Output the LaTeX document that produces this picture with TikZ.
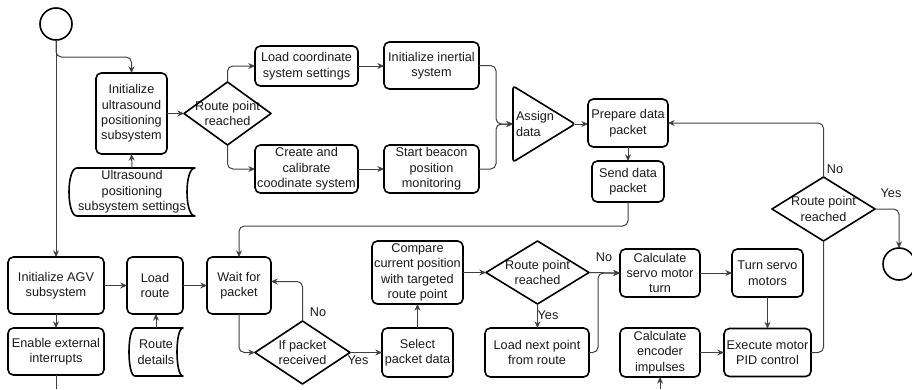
\documentclass[tikz,border=0pt]{standalone}
\usepackage{fontspec}
\setmainfont{Liberation Sans}
\usetikzlibrary{arrows.meta,calc}
\newcommand{\storedshape}[2]{%
 \draw[shapeline] ($(#1.north west)+(#2,0)$) -- (#1.north east)
 .. controls ($(#1.north east)+(-1.333*#2,0)$) and ($(#1.south east)+(-1.333*#2,0)$) .. (#1.south east)
 -- ($(#1.south west)+(#2,0)$)
 .. controls ($(#1.south west)+(-0.333*#2,0)$) and ($(#1.north west)+(-0.333*#2,0)$) .. ($(#1.north west)+(#2,0)$) -- cycle;}
\tikzset{
 every node/.style={font=\fontsize{9.5}{11.6}\selectfont, text=black!90},
 box/.style={draw=black, line width=1.2pt, rounded corners=4pt, align=center, inner sep=1pt, outer sep=0pt},
 sz/.style 2 args={minimum width=#1*0.75pt, minimum height=#2*0.75pt},
 plain/.style={align=center, inner sep=1pt, outer sep=0pt},
 conn/.style={draw=black!75, line width=0.75pt, rounded corners=4pt},
 arr/.style={conn, -{Stealth[length=5pt,width=4.5pt]}},
 lab/.style={inner sep=1pt},
 term/.style={circle, draw=black, line width=1.2pt, minimum size=24pt, inner sep=0pt, outer sep=0pt},
 shapeline/.style={draw=black, line width=1.2pt, line join=round},
}
\begin{document}
\begin{tikzpicture}[x=0.75pt,y=-0.75pt]
\useasboundingbox (0,0) rectangle (912,389);
% nodes
\node[term] (start) at (56,24) {};
\node[term] (end) at (899,264) {};
\node[box, sz={71}{81}] (us) at (131.5,113.5) {Initialize\\ultrasound\\positioning\\subsystem};
\node[plain, sz={126}{48}] (uss) at (132,192) {Ultrasound\\positioning\\subsystem settings};
\node[plain, sz={87}{63}] (d1) at (227.5,113.5) {Route point\\reached};
\node[box, sz={103}{40}] (lcs) at (306.5,66) {Load coordinate\\system settings};
\node[box, sz={103}{48}] (ccs) at (306.5,169) {Create and\\calibrate\\coodinate system};
\node[box, sz={95}{47}] (iis) at (431.5,65.5) {Initialize inertial\\system};
\node[box, sz={95}{48}] (sbp) at (431.5,169) {Start beacon\\position\\monitoring};
\node[plain, sz={62}{76}, text width=42pt, align=left] (assign) at (544,124) {Assign\\data};
\node[box, sz={80}{48}] (pdp) at (628,123) {Prepare data\\packet};
\node[box, sz={72}{41}] (sdp) at (628,181.5) {Send data\\packet};
\node[plain, sz={103}{64}] (d4) at (823.5,209) {Route point\\reached};
\node[box, sz={96}{57}] (agv) at (56,285.5) {Initialize AGV\\subsystem};
\node[box, sz={96}{47}] (eei) at (56,351.5) {Enable external\\interrupts};
\node[box, sz={56}{57}] (lr) at (155,285.5) {Load\\route};
\node[plain, sz={54}{48}] (rd) at (156,352) {Route\\details};
\node[box, sz={64}{57}] (wfp) at (239,285.5) {Wait for\\packet};
\node[plain, sz={95}{63}] (d2) at (302.5,352.5) {If packet\\received};
\node[box, sz={71}{49}] (spd) at (417.5,352.5) {Select\\packet data};
\node[box, sz={91}{63}] (cmp) at (417.5,272.5) {Compare\\current position\\with targeted\\route point};
\node[plain, sz={103}{63}] (d3) at (537.5,272.5) {Route point\\reached};
\node[box, sz={104}{49}] (lnp) at (537,352.5) {Load next point\\from route};
\node[box, sz={80}{48}] (csm) at (660,273) {Calculate\\servo motor\\turn};
\node[box, sz={71}{48}] (tsm) at (767.5,273) {Turn servo\\motors};
\node[box, sz={80}{49}] (cei) at (660,352.5) {Calculate\\encoder\\impulses};
\node[box, sz={87}{48}] (pid) at (767.5,352.5) {Execute motor\\PID control};
\coordinate (b1) at (56,389);
\coordinate (b2) at (660,389);
% shapes
\foreach \n in {d1,d2,d3,d4}
  \draw[shapeline] (\n.north) -- (\n.east) -- (\n.south) -- (\n.west) -- cycle;
\draw[shapeline, rounded corners=2pt] (assign.north west) -- (assign.east) -- (assign.south west) -- cycle;
\storedshape{uss}{8}
\storedshape{rd}{6}
% labels
\node[lab] (l1) at (318,312) {No};
\node[lab] (l2) at (358,360) {Yes};
\node[lab] (l3) at (548,315) {Yes};
\node[lab] (l4) at (604,257) {No};
\node[lab] (l5) at (835,169) {No};
\node[lab] (l6) at (891,193) {Yes};
% connectors
\draw[arr] (start.south) -- (agv.north);
\draw[arr] (start.south) -- ++(0,17) -| (us.north);
\draw[arr] (uss.north) -- (us.south);
\draw[arr] (us.east) -- (d1.west);
\draw[arr] (d1.north) |- (lcs.west);
\draw[arr] (d1.south) |- (ccs.west);
\draw[arr] (lcs.east) -- (lcs.east -| iis.west);
\draw[arr] (ccs.east) -- (ccs.east -| sbp.west);
\draw[arr] (iis.east) -- ++(17,0) |- (assign.west);
\draw[arr] (sbp.east) -- ++(17,0) |- (assign.west);
\draw[arr] (assign.east) -- (assign.east -| pdp.west);
\draw[arr] (pdp.south) -- (sdp.north);
\draw[arr] (sdp.south) -- ++(0,24) -| (wfp.north);
\draw[arr] (d4.north) |- (pdp.east);
\draw[arr] (d4.east) -| (end.north);
\draw[conn] (pid.east) -| (d4.south);
\draw[arr] (agv.east) -- (lr.west);
\draw[arr] (lr.east) -- (wfp.west);
\draw[arr] (agv.south) -- (eei.north);
\draw[arr] (rd.north) -- (rd.north |- lr.south);
\draw[conn] (eei.south) -- (b1);
\draw[arr] (wfp.south) |- (d2.west);
\draw[arr] (d2.north) |- ($(wfp.east)+(0,-4)$);
\draw[arr] (d2.east) -- (spd.west);
\draw[arr] (spd.north) -- (cmp.south);
\draw[arr] (cmp.east) -- (d3.west);
\draw[arr] (d3.south) -- (d3.south |- lnp.north);
\draw[arr] (d3.east) -- (csm.west);
\draw[arr] (lnp.east) -- ++(9,0) |- (csm.west);
\draw[arr] (csm.east) -- (tsm.west);
\draw[arr] (tsm.south) -- (pid.north);
\draw[arr] (cei.east) -- (pid.west);
\draw[arr] (b2) -- (cei.south);
\end{tikzpicture}
\end{document}
